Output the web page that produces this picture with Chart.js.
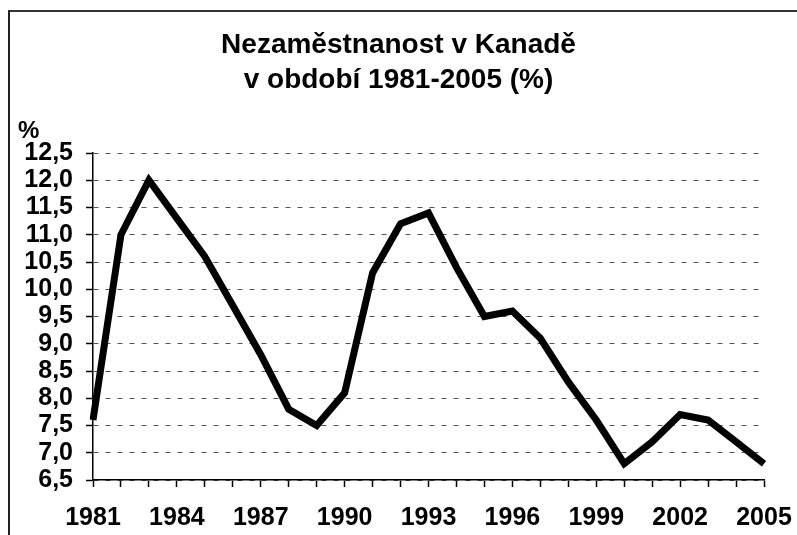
<!DOCTYPE html>
<html>
<head>
<meta charset="utf-8">
<script src="https://cdn.jsdelivr.net/npm/chart.js@4/dist/chart.umd.min.js"></script>
<style>
  html, body { margin: 0; padding: 0; background: #fff; }
  #wrap { position: relative; width: 797px; height: 535px; }
  #frame {
    position: absolute; left: 8px; top: 10px; right: 0; bottom: 0;
    border-left: 2px solid #222; border-top: 2px solid #333;
    pointer-events: none;
  }
</style>
</head>
<body>
<div id="wrap">
  <canvas id="chart" width="797" height="535"></canvas>
  <div id="frame"></div>
</div>
<script>
// --- Data ---
const years = ['1981', '1982', '1983', '1984', '1985', '1986', '1987', '1988', '1989', '1990',
               '1991', '1992', '1993', '1994', '1995', '1996', '1997', '1998', '1999', '2000',
               '2001', '2002', '2003', '2004', '2005'];
const unemployment = [7.6, 11.0, 12.0, 11.3, 10.6, 9.7, 8.8, 7.8, 7.5, 8.1,
                      10.3, 11.2, 11.4, 10.4, 9.5, 9.6, 9.1, 8.3, 7.6, 6.8,
                      7.2, 7.7, 7.6, 7.2, 6.8];
const yTicks = [6.5, 7.0, 7.5, 8.0, 8.5, 9.0, 9.5, 10.0, 10.5, 11.0, 11.5, 12.0, 12.5];
const titleLines = ['Nezaměstnanost v Kanadě', 'v období 1981-2005 (%)'];

const FONT = "'Liberation Sans', Arial, sans-serif";

// draws the "%" unit label above the y axis
const unitLabel = {
    id: 'unitLabel',
    afterDraw(chart) {
        const ctx = chart.ctx;
        ctx.save();
        ctx.font = 'bold 24px ' + FONT;
        ctx.fillStyle = '#000';
        ctx.textBaseline = 'alphabetic';
        ctx.fillText('%', 18, 138);
        ctx.restore();
    }
};

new Chart(document.getElementById('chart'), {
    type: 'line',
    data: {
        labels: years,
        datasets: [{
            data: unemployment,
            borderColor: '#000',
            borderWidth: 7,
            pointRadius: 0,
            tension: 0,
            fill: false
        }]
    },
    options: {
        responsive: false,
        animation: false,
        layout: { padding: { left: 0, right: 0, top: 0, bottom: 0 } },
        plugins: {
            legend: { display: false },
            tooltip: { enabled: false },
            title: {
                display: true,
                text: titleLines,
                color: '#000',
                font: { family: FONT, size: 28, weight: 'bold', lineHeight: 1.25 },
                padding: { top: 28, bottom: 55 }
            }
        },
        scales: {
            x: {
                type: 'category',
                offset: false,
                afterFit: (scale) => {
                    scale.height = 55;
                    scale.paddingLeft = 0;
                    scale.paddingRight = 33;
                },
                grid: {
                    drawOnChartArea: false,
                    drawTicks: true,
                    tickLength: 7,
                    tickColor: '#000',
                    tickWidth: 1.5
                },
                border: { color: '#000', width: 1.5 },
                ticks: {
                    autoSkip: false,
                    maxRotation: 0,
                    color: '#000',
                    padding: 16,
                    font: { family: FONT, size: 25, weight: 'bold' },
                    callback: (val, i) => (i % 3 === 0 ? years[i] : '')
                }
            },
            y: {
                min: yTicks[0],
                max: yTicks[yTicks.length - 1],
                afterFit: (scale) => { scale.width = 93; },
                afterBuildTicks: (scale) => { scale.ticks = yTicks.map(v => ({ value: v })); },
                grid: {
                    color: '#555',
                    lineWidth: 1,
                    tickLength: 7,
                    tickColor: '#000',
                    tickWidth: 1.5
                },
                border: { color: '#000', width: 1.5, dash: [5, 7] },
                ticks: {
                    autoSkip: false,
                    color: '#000',
                    padding: 13,
                    font: { family: FONT, size: 25, weight: 'bold' },
                    callback: (v) => v.toFixed(1).replace('.', ',')
                }
            }
        }
    },
    plugins: [unitLabel]
});
</script>
</body>
</html>
